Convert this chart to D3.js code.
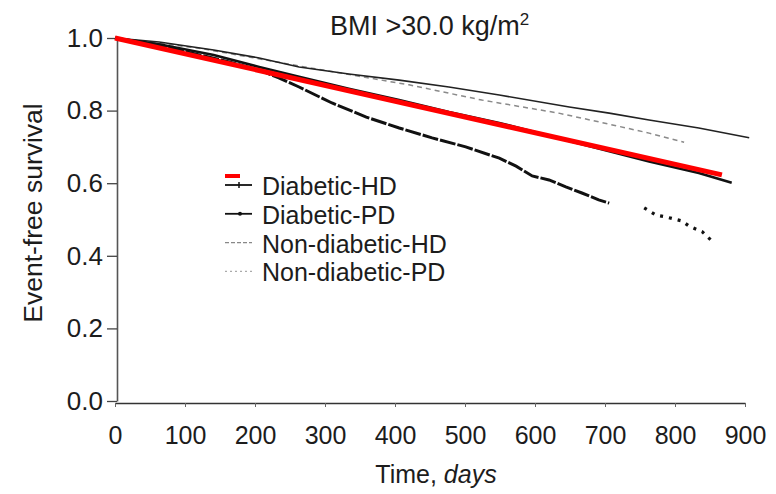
<!DOCTYPE html>
<html><head><meta charset="utf-8">
<script src="https://cdn.jsdelivr.net/npm/d3@7"></script>
<style>
body{margin:0;background:#fff}
text{font-family:"Liberation Sans", Arial, Helvetica, sans-serif; fill:#1c1c1c}
</style>
</head><body>
<svg id="chart" width="776" height="494"></svg>
<script>
// ---- data ----
const title = "BMI >30.0 kg/m";
const titleSup = "2";
const xLabel = "Time, ";
const xLabelItalic = "days";
const yLabel = "Event-free survival";
const xTicks = [0,100,200,300,400,500,600,700,800,900];
const yTicks = [0.0,0.2,0.4,0.6,0.8,1.0];
const seriesNames = ["Diabetic-HD","Diabetic-PD","Non-diabetic-HD","Non-diabetic-PD"];

const diabeticHDDays = [0,63,141,206,263,334,406,477,549,649,706,763,834,881];
const diabeticHDSurv = [1.0,0.983,0.953,0.920,0.893,0.860,0.829,0.796,0.766,0.716,0.688,0.660,0.628,0.601];

const diabeticPDDays = [0,91,163,206,234,263,310,359,406,453,501,549,573,596,620,644,667,691,706];
const diabeticPDSurv = [1.0,0.967,0.934,0.912,0.890,0.865,0.821,0.782,0.752,0.725,0.700,0.669,0.647,0.620,0.609,0.590,0.573,0.554,0.545];
const diabeticPDTailDays = [756,773,787,810,820,839,851];
const diabeticPDTailSurv = [0.532,0.512,0.507,0.496,0.482,0.466,0.444];

const nonDiabeticHDDays = [0,63,141,206,263,334,406,477,549,649,706,763,834,906];
const nonDiabeticHDSurv = [1.0,0.989,0.967,0.945,0.920,0.901,0.884,0.865,0.843,0.810,0.793,0.774,0.752,0.725];

const nonDiabeticPDDays = [0,120,263,420,524,634,691,763,813];
const nonDiabeticPDSurv = [1.0,0.972,0.923,0.871,0.829,0.793,0.769,0.738,0.713];

const redFitDays = [0,867];
const redFitSurv = [1.0,0.623];

// ---- layout ----
const svg = d3.select("#chart");
const x = d3.scaleLinear().domain([0,900]).range([115,745]);
const y = d3.scaleLinear().domain([0,1]).range([401,38]);
const zip = (a,b) => a.map((d,i)=>[d,b[i]]);
const line = d3.line().x(d=>x(d[0])).y(d=>y(d[1]));

// y axis
const gy = svg.append("g").attr("transform",`translate(${x(0)+2},0)`)
  .call(d3.axisLeft(y).tickValues(yTicks).tickFormat(d3.format(".1f")).tickSize(10).tickSizeOuter(0));
gy.select(".domain").attr("stroke","#555").attr("stroke-width",1.6);
gy.selectAll(".tick line").attr("stroke","#444").attr("stroke-width",1.3);
gy.selectAll(".tick text").attr("font-size",26).attr("x",-14).attr("fill","#1c1c1c");
gy.attr("font-family",null).attr("font-size",null);

// x axis
const gx = svg.append("g").attr("transform",`translate(0,${y(0)+2})`)
  .call(d3.axisBottom(x).tickValues(xTicks).tickSize(4).tickSizeOuter(0));
gx.select(".domain").attr("stroke","#333").attr("stroke-width",1.6);
gx.selectAll(".tick line").attr("stroke","#666").attr("stroke-width",1);
gx.selectAll(".tick text").attr("font-size",25).attr("y",41).attr("dy",null).attr("fill","#1c1c1c");
gx.attr("font-family",null).attr("font-size",null);

// curves
svg.append("path").datum(zip(nonDiabeticPDDays,nonDiabeticPDSurv)).attr("d",line)
  .attr("fill","none").attr("stroke","#8a8a8a").attr("stroke-width",1.5).attr("stroke-dasharray","5,4");
svg.append("path").datum(zip(nonDiabeticHDDays,nonDiabeticHDSurv)).attr("d",line)
  .attr("fill","none").attr("stroke","#222").attr("stroke-width",1.6);
svg.append("path").datum(zip(diabeticPDDays,diabeticPDSurv)).attr("d",line)
  .attr("fill","none").attr("stroke","#111").attr("stroke-width",3).attr("stroke-dasharray","16,2");
svg.append("path").datum(zip(diabeticPDTailDays,diabeticPDTailSurv)).attr("d",line)
  .attr("fill","none").attr("stroke","#111").attr("stroke-width",3.2).attr("stroke-dasharray","3,6");
svg.append("path").datum(zip(diabeticHDDays,diabeticHDSurv)).attr("d",line)
  .attr("fill","none").attr("stroke","#111").attr("stroke-width",2.6);
svg.append("path").datum(zip(redFitDays,redFitSurv)).attr("d",line)
  .attr("fill","none").attr("stroke","#ff0000").attr("stroke-width",5);

// title
const t = svg.append("text").attr("x",330).attr("y",35).attr("font-size",27).text(title);
t.append("tspan").attr("font-size",17).attr("dy",-10).text(titleSup);

// axis titles
const xl = svg.append("text").attr("x",436).attr("y",483).attr("text-anchor","middle").attr("font-size",25);
xl.append("tspan").text(xLabel);
xl.append("tspan").attr("font-style","italic").text(xLabelItalic);
svg.append("text").attr("transform","translate(42,213) rotate(-90)").attr("text-anchor","middle")
  .attr("font-size",26.5).text(yLabel);

// legend
const legendStyles = [
  {stroke:"#111", w:1.8, dash:null, mark:"tick"},
  {stroke:"#111", w:1.8, dash:null, mark:"dot"},
  {stroke:"#888", w:1.3, dash:"4,2", mark:null},
  {stroke:"#aaa", w:1.3, dash:"2,3", mark:null}
];
const lg = svg.append("g").attr("transform","translate(225,195)");
seriesNames.forEach((name,i)=>{
  const g = lg.append("g").attr("transform",`translate(0,${i*28.8})`);
  const s = legendStyles[i];
  g.append("line").attr("x1",0).attr("x2",27).attr("y1",-10).attr("y2",-10)
    .attr("stroke",s.stroke).attr("stroke-width",s.w).attr("stroke-dasharray",s.dash);
  if (s.mark==="tick") g.append("line").attr("x1",14).attr("x2",14).attr("y1",-13).attr("y2",-7).attr("stroke","#111").attr("stroke-width",1.5);
  if (s.mark==="dot") g.append("circle").attr("cx",15).attr("cy",-10).attr("r",2).attr("fill","#111");
  g.append("text").attr("x",37).attr("y",0).attr("font-size",25).text(name);
});
lg.append("rect").attr("x",0).attr("y",-21).attr("width",15).attr("height",4).attr("fill","#ff0000");
</script>
</body></html>
